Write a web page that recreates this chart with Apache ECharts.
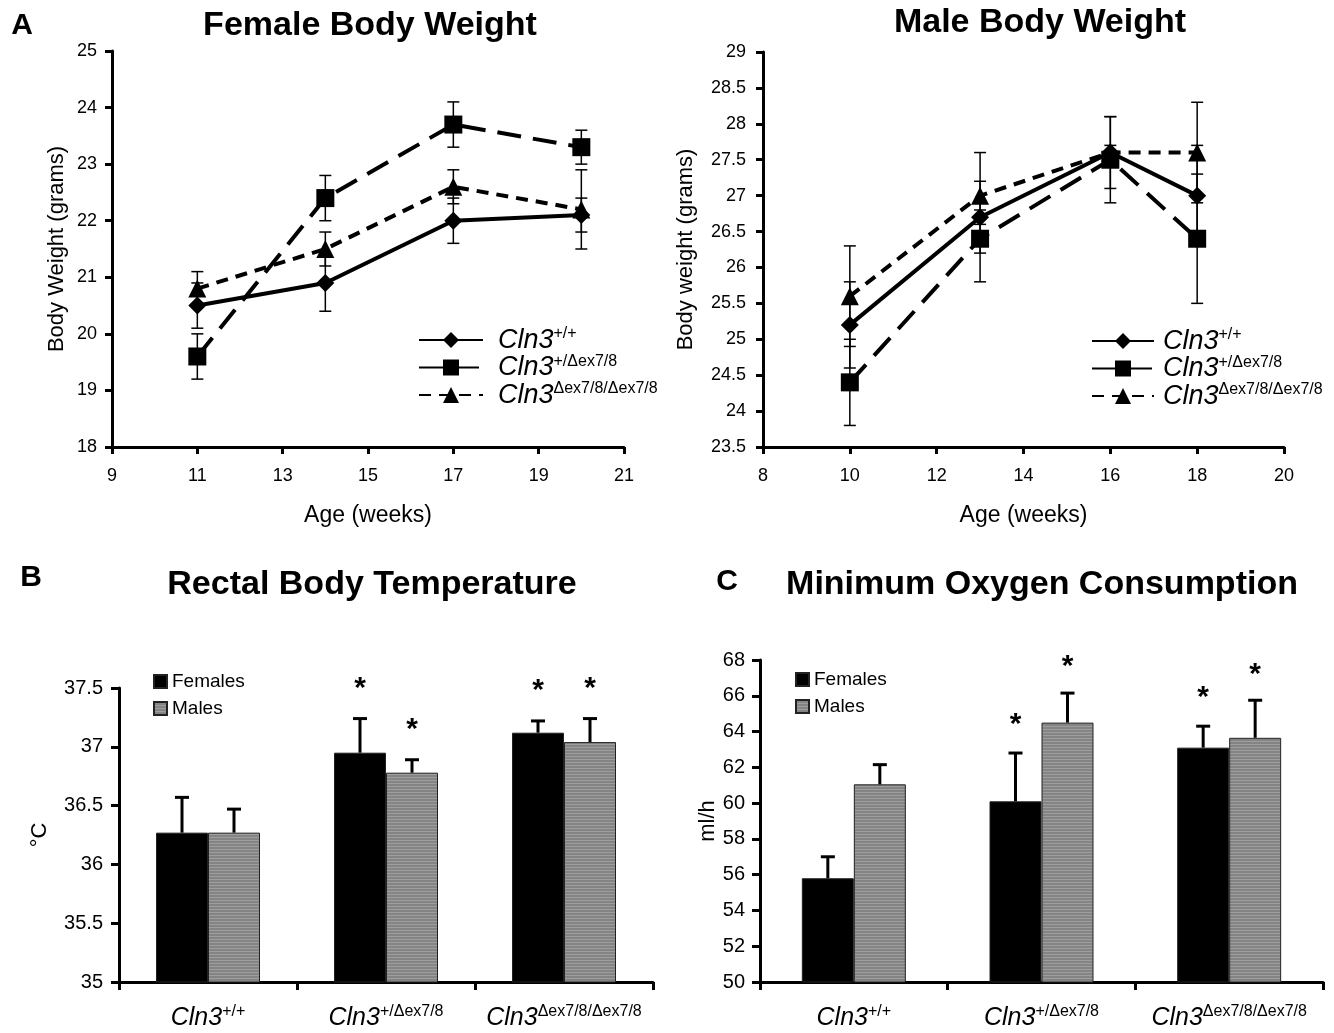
<!DOCTYPE html>
<html><head><meta charset="utf-8">
<script src="https://cdn.jsdelivr.net/npm/echarts@6/dist/echarts.min.js"></script>
<style>html,body{margin:0;padding:0;background:#fff}#c{width:1334px;height:1033px}</style>
</head><body><div id="c"></div>
<script>
const FONT = '"Liberation Sans", Arial, Helvetica, sans-serif';

// ---------- Panel A : body weight ----------
const femaleAgeTicks = [9, 11, 13, 15, 17, 19, 21];
const femaleAges = [11, 14, 17, 20];
const femaleWT = [20.5, 20.9, 22.0, 22.1];
const femaleWTErr = [0.4, 0.5, 0.4, 0.3];
const femaleHet = [19.6, 22.4, 23.7, 23.3];
const femaleHetErr = [0.4, 0.4, 0.4, 0.3];
const femaleHom = [20.8, 21.5, 22.6, 22.2];
const femaleHomErr = [0.3, 0.3, 0.3, 0.7];

const maleAges = [10, 13, 16, 18];
const maleWT = [25.2, 26.7, 27.6, 27.0];
const maleWTErr = [0.6, 0.9, 0.5, 0.7];
const maleHet = [24.4, 26.4, 27.5, 26.4];
const maleHetErr = [0.6, 0.2, 0.6, 0.9];
const maleHom = [25.6, 27.0, 27.6, 27.6];
const maleHomErr = [0.7, 0.2, 0.1, 0.7];

const genotypes = ['wt', 'het', 'hom'];
const genotypeSup = { wt: '+/+', het: '+/\u0394ex7/8', hom: '\u0394ex7/8/\u0394ex7/8' };

// ---------- Panel B : rectal temperature ----------
const tempFemales = [36.27, 36.95, 37.12];
const tempFemalesErr = [0.30, 0.29, 0.10];
const tempFemalesSig = [0, 1, 1];
const tempMales = [36.27, 36.78, 37.04];
const tempMalesErr = [0.20, 0.11, 0.20];
const tempMalesSig = [0, 1, 1];

// ---------- Panel C : minimum oxygen consumption ----------
const o2Females = [55.8, 60.1, 63.1];
const o2FemalesErr = [1.2, 2.7, 1.2];
const o2FemalesSig = [0, 1, 1];
const o2Males = [61.05, 64.5, 63.65];
const o2MalesErr = [1.1, 1.65, 2.1];
const o2MalesSig = [0, 1, 1];

// ---------------------------------------------------------
const chart = echarts.init(document.getElementById('c'));

const stripe = document.createElement('canvas');
stripe.width = 4; stripe.height = 3;
const sctx = stripe.getContext('2d');
sctx.fillStyle = '#848484'; sctx.fillRect(0, 0, 4, 3);
sctx.fillStyle = '#9e9e9e'; sctx.fillRect(0, 0, 4, 1);
const maleFill = { image: stripe, repeat: 'repeat' };

const BAR_W = 52;

const axisLineStyle = { show: true, lineStyle: { color: '#000', width: 3 } };
const axisTickStyle = { show: true, length: 7, lineStyle: { color: '#000', width: 3 } };

function valueAxisX(grid, min, max, interval, ticks) {
  const a = {
    type: 'value', gridIndex: grid, min, max, interval,
    axisLine: axisLineStyle, axisTick: Object.assign({}, axisTickStyle), splitLine: { show: false },
    axisLabel: { fontFamily: FONT, fontSize: 18, color: '#000', margin: 20 },
    name: 'Age (weeks)', nameLocation: 'middle', nameGap: 57,
    nameTextStyle: { fontFamily: FONT, fontSize: 23, color: '#000' }
  };
  if (ticks) {
    a.axisLabel.customValues = ticks;
    a.axisTick.customValues = ticks;
  }
  return a;
}

function catLabelFmt(v) { return '{i|Cln3}{s|' + genotypeSup[v] + '}'; }
const catRich = {
  i: { fontFamily: FONT, fontStyle: 'italic', fontSize: 25, lineHeight: 29, color: '#000' },
  s: { fontFamily: FONT, fontSize: 16, lineHeight: 18, verticalAlign: 'top', color: '#000' }
};

function catAxisX(grid) {
  return {
    type: 'category', gridIndex: grid, data: genotypes,
    axisLine: axisLineStyle, axisTick: { show: true, length: 8, lineStyle: { color: '#000', width: 3 } },
    axisLabel: { formatter: catLabelFmt, rich: catRich, margin: 22 },
    splitLine: { show: false }
  };
}

function lineErrRender(params, api) {
  const x = api.value(0), y = api.value(1), e = api.value(2);
  const t = api.coord([x, y + e]);
  const b = api.coord([x, y - e]);
  const hw = 6;
  const st = { stroke: '#000', lineWidth: 1.5 };
  return {
    type: 'group', children: [
      { type: 'line', shape: { x1: t[0], y1: t[1], x2: b[0], y2: b[1] }, style: st },
      { type: 'line', shape: { x1: t[0] - hw, y1: t[1], x2: t[0] + hw, y2: t[1] }, style: st },
      { type: 'line', shape: { x1: b[0] - hw, y1: b[1], x2: b[0] + hw, y2: b[1] }, style: st }
    ]
  };
}

function lineSeries(name, ages, vals, axis, dash, symbol, size) {
  return {
    type: 'line', name, xAxisIndex: axis, yAxisIndex: axis,
    data: ages.map((a, i) => [a, vals[i]]),
    symbol, symbolSize: size, showAllSymbol: true,
    lineStyle: { color: '#000', width: 4, type: dash, cap: 'butt' },
    itemStyle: { color: '#000', borderWidth: 0 },
    z: 3, animation: false
  };
}

function errSeries(ages, vals, errs, axis) {
  return {
    type: 'custom', xAxisIndex: axis, yAxisIndex: axis,
    data: ages.map((a, i) => [a, vals[i], errs[i]]),
    renderItem: lineErrRender, z: 4, silent: true, animation: false
  };
}

function barErrSeries(vals, errs, sigs, axis, side, starGap) {
  return {
    type: 'custom', xAxisIndex: axis, yAxisIndex: axis,
    data: vals.map((v, i) => [i, v, errs[i], sigs[i]]),
    z: 5, silent: true, animation: false,
    renderItem: function (params, api) {
      const c = api.value(0), v = api.value(1), e = api.value(2), s = api.value(3);
      const p0 = api.coord([c, v]);
      const p1 = api.coord([c, v + e]);
      const cx = p0[0] + side * BAR_W / 2;
      const st = { stroke: '#000', lineWidth: 3 };
      const ch = [
        { type: 'line', shape: { x1: cx, y1: p0[1], x2: cx, y2: p1[1] }, style: st },
        { type: 'line', shape: { x1: cx - 7, y1: p1[1], x2: cx + 7, y2: p1[1] }, style: st }
      ];
      if (s) {
        ch.push({ type: 'text', style: { x: cx, y: p1[1] - starGap, text: '*', fill: '#000',
          font: 'bold 30px ' + FONT, textAlign: 'center', textVerticalAlign: 'middle' } });
      }
      return { type: 'group', children: ch };
    }
  };
}

function barSeries(name, vals, axis, color) {
  return {
    type: 'bar', name, xAxisIndex: axis, yAxisIndex: axis, data: vals,
    barWidth: BAR_W, barGap: '0%',
    itemStyle: { color, borderColor: '#222', borderWidth: 1 },
    z: 2, animation: false
  };
}

const legendLineRich = (pad) => ({
  i: { fontFamily: FONT, fontStyle: 'italic', fontSize: 27, lineHeight: 28, color: '#000', padding: [0, 0, 0, pad] },
  s: { fontFamily: FONT, fontSize: 16, lineHeight: 16, verticalAlign: 'top', color: '#000' }
});

const option = {
  backgroundColor: '#fff',
  animation: false,
  grid: [
    { left: 112, top: 51, width: 512, height: 396 },
    { left: 763, top: 52, width: 521, height: 395 },
    { left: 119, top: 688, width: 534, height: 294 },
    { left: 760, top: 660, width: 563, height: 322 }
  ],
  xAxis: [
    valueAxisX(0, 9, 21, 2, femaleAgeTicks),
    valueAxisX(1, 8, 20, 2),
    catAxisX(2),
    catAxisX(3)
  ],
  yAxis: [
    { type: 'value', gridIndex: 0, min: 18, max: 25, interval: 1,
      axisLine: axisLineStyle, axisTick: axisTickStyle, splitLine: { show: false },
      axisLabel: { fontFamily: FONT, fontSize: 18, color: '#000', margin: 15 },
      name: 'Body Weight (grams)', nameLocation: 'middle', nameRotate: 90, nameGap: 44,
      nameTextStyle: { fontFamily: FONT, fontSize: 22, color: '#000' } },
    { type: 'value', gridIndex: 1, min: 23.5, max: 29, interval: 0.5,
      axisLine: axisLineStyle, axisTick: axisTickStyle, splitLine: { show: false },
      axisLabel: { fontFamily: FONT, fontSize: 18, color: '#000', margin: 17 },
      name: 'Body weight (grams)', nameLocation: 'middle', nameRotate: 90, nameGap: 66,
      nameTextStyle: { fontFamily: FONT, fontSize: 22, color: '#000' } },
    { type: 'value', gridIndex: 2, min: 35, max: 37.5, interval: 0.5,
      axisLine: axisLineStyle, axisTick: { show: true, length: 8, lineStyle: { color: '#000', width: 3 } },
      splitLine: { show: false },
      axisLabel: { fontFamily: FONT, fontSize: 20, color: '#000', margin: 16 },
      name: '\u00b0C', nameLocation: 'middle', nameRotate: 90, nameGap: 68,
      nameTextStyle: { fontFamily: FONT, fontSize: 22, color: '#000' } },
    { type: 'value', gridIndex: 3, min: 50, max: 68, interval: 2,
      axisLine: axisLineStyle, axisTick: { show: true, length: 8, lineStyle: { color: '#000', width: 3 } },
      splitLine: { show: false },
      axisLabel: { fontFamily: FONT, fontSize: 20, color: '#000', margin: 15 },
      name: 'ml/h', nameLocation: 'middle', nameRotate: 90, nameGap: 34,
      nameTextStyle: { fontFamily: FONT, fontSize: 22, color: '#000' } }
  ],
  legend: [
    { orient: 'vertical', left: 413, top: 321, itemWidth: 64, itemHeight: 20, itemGap: 0,
      data: genotypes, selectedMode: false,
      formatter: catLabelFmt, textStyle: { rich: legendLineRich(10) } },
    { orient: 'vertical', left: 1086, top: 322, itemWidth: 62, itemHeight: 20, itemGap: 0,
      data: genotypes, selectedMode: false,
      formatter: catLabelFmt, textStyle: { rich: legendLineRich(4) } },
    { orient: 'vertical', left: 148, top: 666, itemWidth: 13, itemHeight: 13, itemGap: 6,
      data: ['Females', 'Males'], selectedMode: false, icon: 'rect',
      textStyle: { fontFamily: FONT, fontSize: 19, lineHeight: 21, color: '#000' } },
    { orient: 'vertical', left: 790, top: 664, itemWidth: 13, itemHeight: 13, itemGap: 6,
      data: ['Females', 'Males'], selectedMode: false, icon: 'rect',
      textStyle: { fontFamily: FONT, fontSize: 19, lineHeight: 21, color: '#000' } }
  ],
  graphic: [
    { type: 'text', x: 22, y: 26, style: { text: 'A', font: 'bold 30px ' + FONT, fill: '#000', textAlign: 'center', textVerticalAlign: 'middle' } },
    { type: 'text', x: 370, y: 26, style: { text: 'Female Body Weight', font: 'bold 34px ' + FONT, fill: '#000', textAlign: 'center', textVerticalAlign: 'middle' } },
    { type: 'text', x: 1040, y: 23, style: { text: 'Male Body Weight', font: 'bold 34px ' + FONT, fill: '#000', textAlign: 'center', textVerticalAlign: 'middle' } },
    { type: 'text', x: 31, y: 578, style: { text: 'B', font: 'bold 30px ' + FONT, fill: '#000', textAlign: 'center', textVerticalAlign: 'middle' } },
    { type: 'text', x: 372, y: 585, style: { text: 'Rectal Body Temperature', font: 'bold 34px ' + FONT, fill: '#000', textAlign: 'center', textVerticalAlign: 'middle' } },
    { type: 'text', x: 727, y: 582, style: { text: 'C', font: 'bold 30px ' + FONT, fill: '#000', textAlign: 'center', textVerticalAlign: 'middle' } },
    { type: 'text', x: 1042, y: 585, style: { text: 'Minimum Oxygen Consumption', font: 'bold 34px ' + FONT, fill: '#000', textAlign: 'center', textVerticalAlign: 'middle' } }
  ],
  series: [
    lineSeries('wt', femaleAges, femaleWT, 0, 'solid', 'diamond', 18),
    lineSeries('het', femaleAges, femaleHet, 0, [24, 12], 'rect', 18),
    lineSeries('hom', femaleAges, femaleHom, 0, [12, 8], 'triangle', 18),
    errSeries(femaleAges, femaleWT, femaleWTErr, 0),
    errSeries(femaleAges, femaleHet, femaleHetErr, 0),
    errSeries(femaleAges, femaleHom, femaleHomErr, 0),

    lineSeries('wt', maleAges, maleWT, 1, 'solid', 'diamond', 18),
    lineSeries('het', maleAges, maleHet, 1, [24, 12], 'rect', 18),
    lineSeries('hom', maleAges, maleHom, 1, [12, 8], 'triangle', 18),
    errSeries(maleAges, maleWT, maleWTErr, 1),
    errSeries(maleAges, maleHet, maleHetErr, 1),
    errSeries(maleAges, maleHom, maleHomErr, 1),

    barSeries('Females', tempFemales, 2, '#000'),
    barSeries('Males', tempMales, 2, maleFill),
    barErrSeries(tempFemales, tempFemalesErr, tempFemalesSig, 2, -1, 30),
    barErrSeries(tempMales, tempMalesErr, tempMalesSig, 2, 1, 30),

    barSeries('Females', o2Females, 3, '#000'),
    barSeries('Males', o2Males, 3, maleFill),
    barErrSeries(o2Females, o2FemalesErr, o2FemalesSig, 3, -1, 28),
    barErrSeries(o2Males, o2MalesErr, o2MalesSig, 3, 1, 26)
  ]
};
chart.setOption(option);
</script></body></html>
